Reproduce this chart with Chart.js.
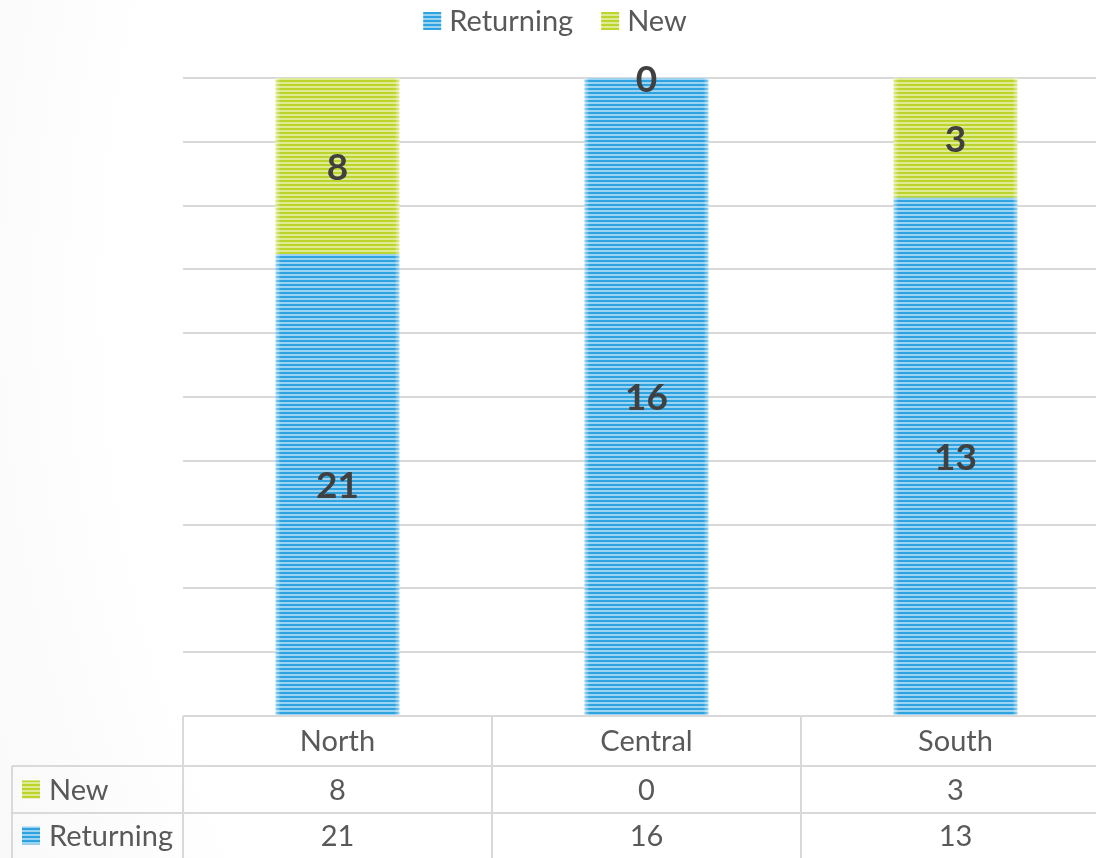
<!DOCTYPE html>
<html><head><meta charset="utf-8">
<script src="https://cdn.jsdelivr.net/npm/chart.js@4"></script>
<style>html,body{margin:0;padding:0;overflow:hidden;background:#fff}</style>
</head><body><canvas id="c" width="1110" height="858"></canvas>
<script>
const categories = ['North', 'Central', 'South'];
const seriesNames = ['Returning', 'New'];
const returning = [21, 16, 13];
const newer = [8, 0, 3];

const FONT = 'Lato, "Open Sans", sans-serif';
const TEXT = '#595959';
const GRID = '#d9d9d9';

function stripes(dark, light) {
  const p = document.createElement('canvas');
  p.width = 4; p.height = 4;
  const g = p.getContext('2d');
  g.fillStyle = dark; g.fillRect(0, 0, 4, 2);
  g.fillStyle = light; g.fillRect(0, 2, 4, 2);
  return g.createPattern(p, 'repeat');
}
const ctx0 = document.getElementById('c').getContext('2d');
const blue = stripes('#2fa3df', '#9ad4f2');
const green = stripes('#bcd42c', '#dfeb92');
const colors = [blue, green];
const rawSeries = [returning, newer];
const totals = categories.map((_, i) => returning[i] + newer[i]);
const pct = arr => arr.map((v, i) => v / totals[i] * 100);

const decor = {
  id: 'decor',
  beforeDraw(chart) {
    const c = chart.ctx, W = chart.width, H = chart.height;
    c.save();
    c.fillStyle = '#fff'; c.fillRect(0, 0, W, H);
    const g = c.createRadialGradient(1400, 300, 1280, 1400, 300, 1500);
    g.addColorStop(0, 'rgba(238,238,238,0)');
    g.addColorStop(1, 'rgba(238,238,238,0.35)');
    c.fillStyle = g; c.fillRect(0, 0, W, H);
    c.restore();
  },
  afterDatasetsDraw(chart) {
    const c = chart.ctx;
    c.save();
    chart.data.datasets.forEach((ds, d) => {
      chart.getDatasetMeta(d).data.forEach(el => {
        const h = el.base - el.y;
        if (h <= 0) return;
        const l = el.x - el.width / 2, r = el.x + el.width / 2;
        const g = c.createLinearGradient(l, 0, r, 0);
        const f = 5 / el.width;
        g.addColorStop(0, 'rgba(255,255,255,0.5)');
        g.addColorStop(f, 'rgba(255,255,255,0)');
        g.addColorStop(1 - f, 'rgba(255,255,255,0)');
        g.addColorStop(1, 'rgba(255,255,255,0.5)');
        c.fillStyle = g;
        c.fillRect(l, el.y, el.width, h);
      });
    });
    c.fillStyle = '#404040';
    c.font = 'bold 37px ' + FONT;
    c.textAlign = 'center'; c.textBaseline = 'middle';
    chart.data.datasets.forEach((ds, d) => {
      chart.getDatasetMeta(d).data.forEach((el, i) => {
        c.fillText(String(rawSeries[d][i]), el.x, (el.y + el.base) / 2 + 2);
      });
    });
    c.restore();
  },
  afterDraw(chart) {
    const c = chart.ctx, W = chart.width, H = chart.height;
    const area = chart.chartArea, xs = chart.scales.x;
    c.save();
    c.font = '29px ' + FONT;
    c.textBaseline = 'middle';
    const box = 18, gap = 8, itemGap = 28;
    const widths = seriesNames.map(n => c.measureText(n).width);
    const total = widths.reduce((a, w) => a + box + gap + w, 0) + itemGap * (seriesNames.length - 1);
    let lx = W / 2 - total / 2;
    const ly = 21;
    seriesNames.forEach((n, k) => {
      c.fillStyle = colors[k];
      c.fillRect(lx, ly - box / 2, box, box);
      c.fillStyle = TEXT; c.textAlign = 'left';
      c.fillText(n, lx + box + gap, ly + 1);
      lx += box + gap + widths[k] + itemGap;
    });
    const top = area.bottom, r1 = 766, r2 = 813, bottom = H;
    const bounds = [area.left];
    for (let i = 0; i < categories.length - 1; i++)
      bounds.push((xs.getPixelForValue(i) + xs.getPixelForValue(i + 1)) / 2);
    bounds.push(area.right);
    c.strokeStyle = GRID; c.lineWidth = 2;
    c.beginPath();
    c.moveTo(area.left, top); c.lineTo(W, top);
    c.moveTo(12, r1); c.lineTo(W, r1);
    c.moveTo(12, r2); c.lineTo(W, r2);
    c.moveTo(12, r1); c.lineTo(12, bottom);
    bounds.forEach(b => { c.moveTo(b, top); c.lineTo(b, bottom); });
    c.stroke();
    c.fillStyle = TEXT; c.textAlign = 'center';
    categories.forEach((cat, i) => {
      const x = xs.getPixelForValue(i);
      c.fillText(cat, x, (top + r1) / 2 + 1);
      c.fillText(String(newer[i]), x, (r1 + r2) / 2 + 1);
      c.fillText(String(returning[i]), x, (r2 + bottom) / 2 + 1);
    });
    const rows = [[1, (r1 + r2) / 2], [0, (r2 + bottom) / 2]];
    rows.forEach(([k, y]) => {
      c.fillStyle = colors[k];
      c.fillRect(22, y - 9, 18, 18);
      c.fillStyle = TEXT; c.textAlign = 'left';
      c.fillText(seriesNames[k], 49, y + 1);
    });
    c.restore();
  }
};

new Chart(ctx0, {
  type: 'bar',
  data: {
    labels: categories,
    datasets: [
      { label: seriesNames[0], data: pct(returning), backgroundColor: blue, borderWidth: 0 },
      { label: seriesNames[1], data: pct(newer), backgroundColor: green, borderWidth: 0 }
    ]
  },
  options: {
    responsive: false,
    animation: false,
    devicePixelRatio: 1,
    datasets: { bar: { categoryPercentage: 1, barPercentage: 0.4 } },
    layout: { padding: { left: 183, right: 0, top: 78, bottom: 142 } },
    plugins: { legend: { display: false }, tooltip: { enabled: false } },
    scales: {
      x: { display: false, stacked: true },
      y: {
        stacked: true, min: 0, max: 100,
        ticks: { display: false, stepSize: 10 },
        grid: { color: GRID, lineWidth: 2, drawTicks: false },
        border: { display: false },
        afterFit(s) { s.width = 0; }
      }
    }
  },
  plugins: [decor]
});
</script>
</body></html>
